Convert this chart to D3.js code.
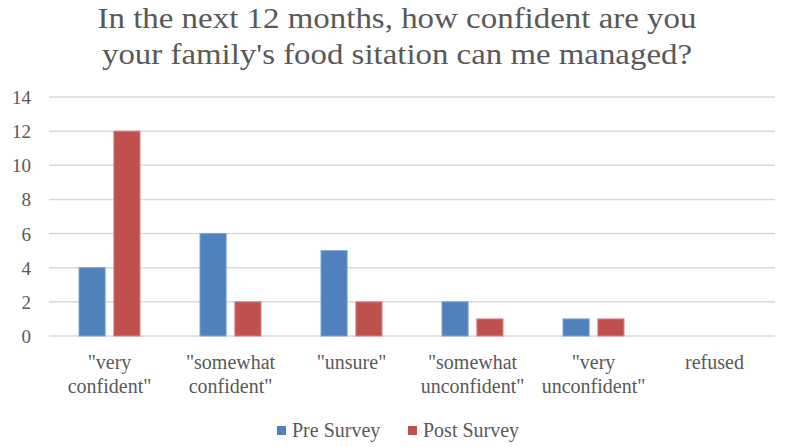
<!DOCTYPE html>
<html>
<head>
<meta charset="utf-8">
<script src="https://cdn.jsdelivr.net/npm/d3@7"></script>
<style>
  html, body { margin: 0; padding: 0; background: #fff; }
  svg { display: block; }
  text { font-family: "Liberation Serif", "DejaVu Serif", serif; fill: #595959; }
</style>
</head>
<body>
<svg id="chart" width="800" height="447"></svg>
<script>
const titleLines = ["In the next 12 months, how confident are you", "your family's food sitation can me managed?"];
const categories = [["\"very", "confident\""], ["\"somewhat", "confident\""], ["\"unsure\""], ["\"somewhat", "unconfident\""], ["\"very", "unconfident\""], ["refused"]];
const seriesNames = ["Pre Survey", "Post Survey"];
const preSurvey = [4, 6, 5, 2, 1, 0];
const postSurvey = [12, 2, 2, 1, 1, 0];
const yTicks = [0, 2, 4, 6, 8, 10, 12, 14];
const colors = ["#4F81BD", "#C0504D"];
const strokes = ["#7ea3d4", "#d88482"];

const svg = d3.select("#chart");
const W = 800, H = 447;
const margin = { left: 49, right: 25, top: 97, bottom: 111 };
const plotW = W - margin.left - margin.right;
const plotH = H - margin.top - margin.bottom;

const g = svg.append("g").attr("transform", `translate(${margin.left},${margin.top})`);

const x = d3.scaleBand().domain(d3.range(categories.length)).range([0, plotW]).paddingInner(0).paddingOuter(0);
const x1 = d3.scaleBand().domain(d3.range(seriesNames.length)).range([0, 61]).paddingInner(0.25).paddingOuter(0);
const y = d3.scaleLinear().domain([0, 14]).range([plotH, 0]);

// title
const titleWidths = [599, 590];
svg.append("g").selectAll("text").data(titleLines).join("text")
  .attr("x", 397).attr("y", (d, i) => 28 + i * 36)
  .attr("text-anchor", "middle")
  .attr("textLength", (d, i) => titleWidths[i])
  .attr("lengthAdjust", "spacingAndGlyphs")
  .style("font-size", "30px")
  .text(d => d);

// gridlines
g.append("g").selectAll("line").data(yTicks).join("line")
  .attr("x1", 0).attr("x2", plotW)
  .attr("y1", d => y(d)).attr("y2", d => y(d))
  .attr("stroke", "#d9d9d9").attr("stroke-width", 1.5);

// y axis labels
const yAxis = d3.axisLeft(y).tickValues(yTicks).tickSize(0).tickPadding(18);
const ya = g.append("g").call(yAxis);
ya.select(".domain").remove();
ya.selectAll("text").style("font-size", "19px").style("font-family", "\"Liberation Serif\", serif").attr("fill", "#595959").attr("dy", "0.34em");

// bars
const data = categories.map((c, i) => [preSurvey[i], postSurvey[i]]);
const groups = g.append("g").selectAll("g").data(data).join("g")
  .attr("transform", (d, i) => `translate(${x(i) + x.bandwidth() / 2 - 30.5},0)`);
groups.selectAll("rect").data(d => d.map((v, s) => ({ v, s }))).join("rect")
  .filter(d => d.v > 0)
  .attr("x", d => x1(d.s))
  .attr("width", x1.bandwidth())
  .attr("y", d => y(d.v))
  .attr("height", d => y(0) - y(d.v))
  .attr("fill", d => colors[d.s])
  .attr("stroke", d => strokes[d.s])
  .attr("stroke-width", 1);

// x category labels
const xl = g.append("g").selectAll("text").data(categories).join("text")
  .attr("text-anchor", "middle")
  .style("font-size", "20px")
  .attr("transform", (d, i) => `translate(${x(i) + x.bandwidth() / 2},${plotH + 33})`);
xl.selectAll("tspan").data(d => d).join("tspan")
  .attr("x", 0).attr("y", (d, i) => i * 24)
  .text(d => d);

// legend
const legendItems = [{ name: seriesNames[0], x: 277 }, { name: seriesNames[1], x: 408 }];
const lg = svg.append("g");
legendItems.forEach((it, i) => {
  lg.append("rect").attr("x", it.x).attr("y", 426).attr("width", 9).attr("height", 9).attr("fill", colors[i]);
  lg.append("text").attr("x", it.x + 15).attr("y", 437).style("font-size", "20px").text(it.name);
});
</script>
</body>
</html>
